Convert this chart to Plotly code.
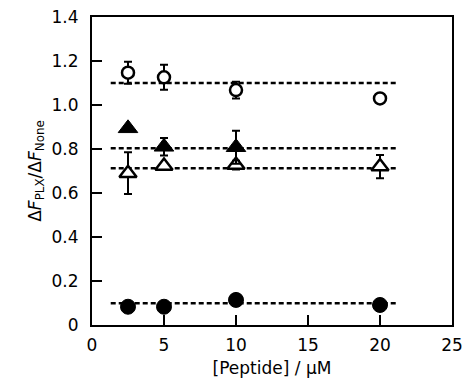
import plotly.graph_objects as go

# Data
conc = [2.5, 5, 10, 20]

open_circle_y = [1.147, 1.126, 1.068, 1.03]
open_circle_err = [0.05, 0.057, 0.038, 0.0]

filled_tri_x = [2.5, 5, 10]
filled_tri_y = [0.894, 0.81, 0.808]
filled_tri_err = [0.0, 0.04, 0.075]

open_tri_y = [0.69, 0.723, 0.727, 0.72]
open_tri_err = [0.095, 0.0, 0.02, 0.053]

filled_circle_y = [0.083, 0.083, 0.114, 0.091]
filled_circle_err = [0.0, 0.0, 0.0, 0.0]

fit_levels = [1.10, 0.803, 0.713, 0.099]
fit_x_range = [1.3, 21.3]

x_ticks = [0, 5, 10, 15, 20, 25]
y_ticks = [0, 0.2, 0.4, 0.6, 0.8, 1.0, 1.2, 1.4]
y_ticktext = ["0", "0.2", "0.4", "0.6", "0.8", "1.0", "1.2", "1.4"]

fig = go.Figure()

for lvl in fit_levels:
    fig.add_trace(go.Scatter(
        x=fit_x_range, y=[lvl, lvl], mode="lines",
        line=dict(color="black", width=2.5, dash="5px,3px"),
        showlegend=False, hoverinfo="skip"))

def eb(err):
    return dict(type="data", array=err, visible=True, color="black", thickness=2, width=4)

fig.add_trace(go.Scatter(
    x=conc, y=filled_circle_y, mode="markers",
    marker=dict(symbol="circle", size=15, color="black", line=dict(color="black", width=1)),
    error_y=eb(filled_circle_err), showlegend=False))

fig.add_trace(go.Scatter(
    x=conc, y=open_tri_y, mode="markers",
    marker=dict(symbol="triangle-up", size=15, color="white", line=dict(color="black", width=2.5)),
    error_y=eb(open_tri_err), showlegend=False))

fig.add_trace(go.Scatter(
    x=filled_tri_x, y=filled_tri_y, mode="markers",
    marker=dict(symbol="triangle-up", size=17, color="black", line=dict(color="black", width=1)),
    error_y=eb(filled_tri_err), showlegend=False))

fig.add_trace(go.Scatter(
    x=conc, y=open_circle_y, mode="markers",
    marker=dict(symbol="circle", size=12, color="white", line=dict(color="black", width=2.5)),
    error_y=eb(open_circle_err), showlegend=False))

font = dict(family="DejaVu Sans, sans-serif", size=17, color="black")

fig.update_layout(
    width=465, height=387,
    margin=dict(l=92, r=13, t=17, b=62, autoexpand=False),
    plot_bgcolor="white", paper_bgcolor="white",
    font=font,
    xaxis=dict(
        range=[0, 25], tickvals=x_ticks, ticks="inside", ticklen=10, tickwidth=2,
        tickcolor="black", showline=True, linecolor="black", linewidth=2, mirror=True,
        showgrid=False, zeroline=False, ticklabelstandoff=4, automargin=False,
        title=dict(text="[Peptide] / μM", standoff=8, font=font)),
    yaxis=dict(
        range=[0, 1.4], tickvals=y_ticks, ticktext=y_ticktext, ticks="inside", ticklen=10,
        tickwidth=2, tickcolor="black", showline=True, linecolor="black", linewidth=2,
        mirror=True, showgrid=False, zeroline=False, ticklabelstandoff=8, automargin=False,
        title=dict(text="Δ<i>F</i><sub>PLX</sub>/Δ<i>F</i><sub>None</sub>", standoff=6, font=font)),
)

fig.write_html("out.html", config={"displayModeBar": False},
               post_script="document.body.style.margin='0';document.body.style.overflow='hidden';")
